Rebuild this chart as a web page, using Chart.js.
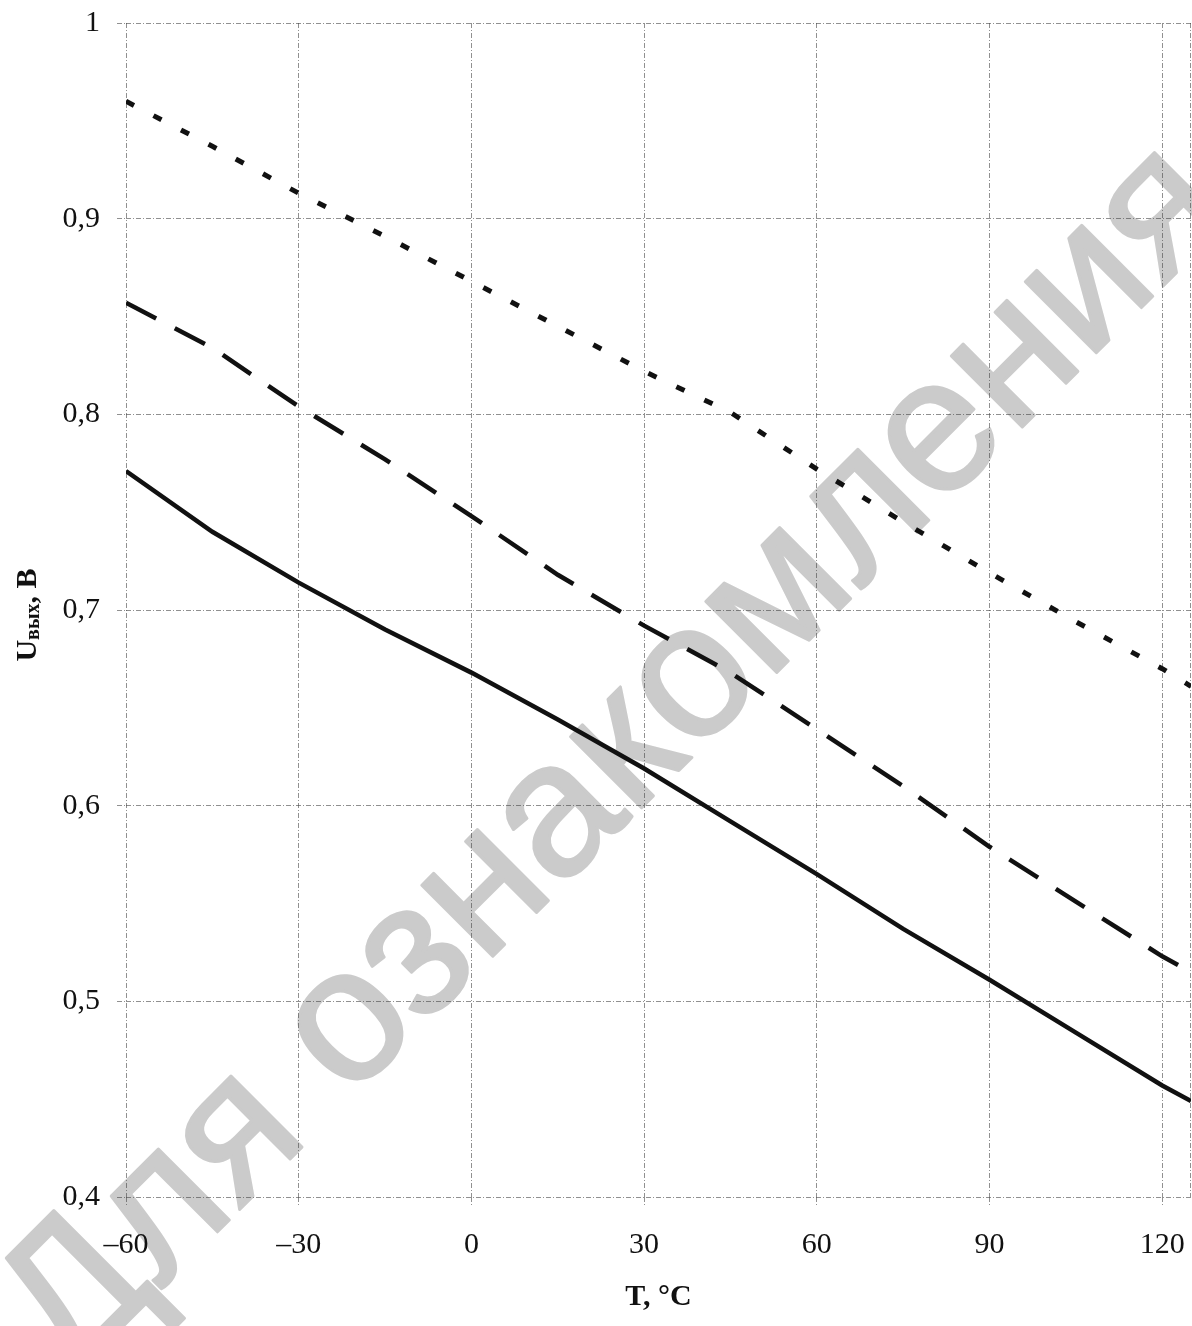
<!DOCTYPE html>
<html>
<head>
<meta charset="utf-8">
<script src="https://cdn.jsdelivr.net/npm/chart.js@4.4.1/dist/chart.umd.min.js"></script>
<style>
  html, body { margin: 0; padding: 0; background: #fff; }
  canvas { display: block; }
</style>
</head>
<body>
<canvas id="chart" width="1192" height="1326"></canvas>
<script>
// Output voltage vs temperature, three characteristics
const temperatures = [-60, -45, -30, -15, 0, 15, 30, 45, 60, 75, 90, 105, 120, 125];
const uSolid  = [0.771, 0.740, 0.714, 0.690, 0.668, 0.644, 0.619, 0.592, 0.565, 0.537, 0.511, 0.484, 0.457, 0.449];
const uDashed = [0.857, 0.834, 0.804, 0.777, 0.748, 0.718, 0.692, 0.668, 0.639, 0.610, 0.579, 0.551, 0.523, 0.515];
const uDotted = [0.960, 0.937, 0.913, 0.891, 0.868, 0.845, 0.822, 0.801, 0.772, 0.745, 0.719, 0.694, 0.670, 0.661];

const xTickValues = [-60, -30, 0, 30, 60, 90, 120];
const xTickLabels = ['–60', '–30', '0', '30', '60', '90', '120'];
const yTickValues = [0.4, 0.5, 0.6, 0.7, 0.8, 0.9, 1];
const yTickLabels = ['0,4', '0,5', '0,6', '0,7', '0,8', '0,9', '1'];

const xTitle = 'T, °C';
const yTitleMain = 'U';
const yTitleSub = 'вых';
const yTitleTail = ', В';
const watermarkText = 'Для ознакомления';

const serif = '"Liberation Serif", "Times New Roman", serif';
const gridColor = 'rgba(70,70,70,0.6)';
const gridDash = [5, 2, 1, 2];

const toPoints = (vals) => temperatures.map((t, i) => ({ x: t, y: vals[i] }));

// Watermark, right frame edge and axis titles
const decorations = {
  id: 'decorations',
  beforeDraw(chart) {
    const { ctx } = chart;
    // diagonal watermark under everything else
    ctx.save();
    ctx.translate(615, 760);
    ctx.rotate(-Math.PI / 4);
    ctx.font = '190px "Liberation Sans", Arial, sans-serif';
    ctx.fillStyle = '#cbcbcb';
    ctx.strokeStyle = '#cbcbcb';
    ctx.lineWidth = 3;
    ctx.lineJoin = 'round';
    ctx.textAlign = 'center';
    ctx.textBaseline = 'middle';
    ctx.fillText(watermarkText, 0, 0);
    ctx.strokeText(watermarkText, 0, 0);
    ctx.restore();
  },
  beforeDatasetsDraw(chart) {
    const { ctx, chartArea } = chart;
    // right edge of the frame
    ctx.save();
    ctx.strokeStyle = gridColor;
    ctx.lineWidth = 1;
    ctx.setLineDash(gridDash);
    ctx.beginPath();
    ctx.moveTo(chartArea.right - 0.5, chartArea.top);
    ctx.lineTo(chartArea.right - 0.5, chartArea.bottom);
    ctx.stroke();
    ctx.restore();
  },
  afterDraw(chart) {
    const { ctx, chartArea } = chart;
    ctx.save();
    ctx.fillStyle = '#111';
    // x axis title
    ctx.font = 'bold 30px ' + serif;
    ctx.textAlign = 'center';
    ctx.textBaseline = 'middle';
    ctx.fillText(xTitle, (chartArea.left + chartArea.right) / 2, 1297);

    // y axis title with subscript, rotated
    ctx.translate(36, 615);
    ctx.rotate(-Math.PI / 2);
    ctx.textAlign = 'left';
    ctx.textBaseline = 'alphabetic';
    const mainFont = 'bold 30px ' + serif;
    const subFont = 'bold 20px ' + serif;
    ctx.font = mainFont;
    const w1 = ctx.measureText(yTitleMain).width;
    const w3 = ctx.measureText(yTitleTail).width;
    ctx.font = subFont;
    const w2 = ctx.measureText(yTitleSub).width;
    let x = -(w1 + w2 + w3) / 2;
    ctx.font = mainFont;
    ctx.fillText(yTitleMain, x, 0);
    x += w1;
    ctx.font = subFont;
    ctx.fillText(yTitleSub, x, 3);
    x += w2;
    ctx.font = mainFont;
    ctx.fillText(yTitleTail, x, 0);
    ctx.restore();
  }
};

new Chart(document.getElementById('chart'), {
  type: 'line',
  data: {
    datasets: [
      {
        label: 'solid',
        data: toPoints(uSolid),
        borderColor: '#111',
        borderWidth: 4.5,
        pointRadius: 0,
        tension: 0,
        fill: false
      },
      {
        label: 'dashed',
        data: toPoints(uDashed),
        borderColor: '#111',
        borderWidth: 4.5,
        borderDash: [34, 21],
        pointRadius: 0,
        tension: 0,
        fill: false
      },
      {
        label: 'dotted',
        data: toPoints(uDotted),
        borderColor: '#111',
        borderWidth: 5,
        borderDash: [9, 22],
        pointRadius: 0,
        tension: 0,
        fill: false
      }
    ]
  },
  options: {
    responsive: false,
    animation: false,
    events: [],
    layout: { padding: { left: 0, right: 1, top: 23, bottom: 0 } },
    plugins: {
      legend: { display: false },
      tooltip: { enabled: false },
      title: { display: false }
    },
    scales: {
      x: {
        type: 'linear',
        min: -60,
        max: 125,
        afterBuildTicks(scale) {
          scale.ticks = xTickValues.map(v => ({ value: v }));
        },
        afterFit(scale) {
          scale.height = 129;
          scale.paddingLeft = 0;
          scale.paddingRight = 0;
        },
        ticks: {
          autoSkip: false,
          maxRotation: 0,
          padding: 21,
          color: '#111',
          font: { family: serif, size: 30 },
          callback: (v) => xTickLabels[xTickValues.indexOf(v)]
        },
        grid: {
          color: gridColor,
          lineWidth: 1,
          tickLength: 9,
          tickColor: gridColor,
          tickBorderDash: gridDash
        },
        border: { display: false, dash: gridDash }
      },
      y: {
        type: 'linear',
        min: 0.4,
        max: 1,
        afterBuildTicks(scale) {
          scale.ticks = yTickValues.map(v => ({ value: v }));
        },
        afterFit(scale) {
          scale.width = 126;
          scale.paddingTop = 0;
          scale.paddingBottom = 0;
        },
        ticks: {
          autoSkip: false,
          padding: 17,
          color: '#111',
          font: { family: serif, size: 30 },
          callback: (v) => {
            const i = yTickValues.findIndex(t => Math.abs(t - v) < 1e-9);
            return i >= 0 ? yTickLabels[i] : '';
          }
        },
        grid: {
          color: gridColor,
          lineWidth: 1,
          tickLength: 9,
          tickColor: gridColor,
          tickBorderDash: gridDash
        },
        border: { display: false, dash: gridDash }
      }
    }
  },
  plugins: [decorations]
});
</script>
</body>
</html>
